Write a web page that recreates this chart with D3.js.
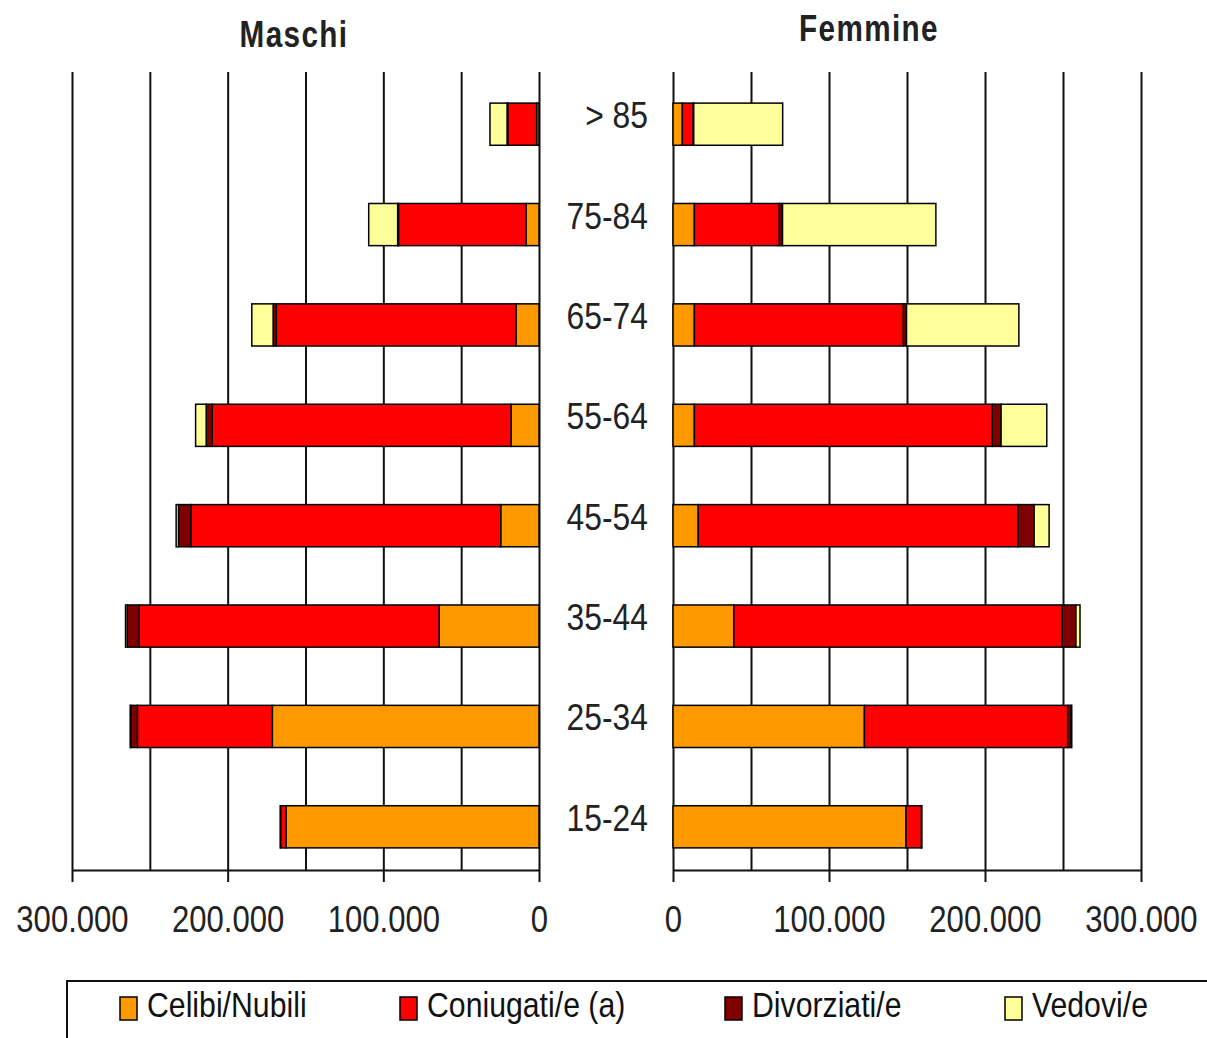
<!DOCTYPE html>
<html>
<head>
<meta charset="utf-8">
<script src="https://cdn.jsdelivr.net/npm/d3@7"></script>
<style>
  body { margin: 0; background: #fff; }
  svg { display: block; font-family: "Liberation Sans", Arial, sans-serif; }
</style>
</head>
<body>
<svg width="1207" height="1038"></svg>
<script>
// age classes, top to bottom
var categories = ['> 85', '75-84', '65-74', '55-64', '45-54', '35-44', '25-34', '15-24'];
var seriesKeys = ['celibi', 'coniugati', 'divorziati', 'vedovi'];
var seriesLabels = ['Celibi/Nubili', 'Coniugati/e (a)', 'Divorziati/e', 'Vedovi/e'];
var seriesColors = ['#FF9900', '#FF0000', '#800000', '#FFFF99'];

// Maschi
var celibiM     = [1500, 8300, 14800, 18000, 24600, 64200, 171300, 162500];
var coniugatiM  = [18600, 82000, 154000, 192000, 199000, 192700, 86700, 3500];
var divorziatiM = [400, 500, 2000, 3800, 8000, 7700, 4300, 200];
var vedoviM     = [11000, 18600, 13700, 6800, 1500, 1000, 300, 0];

// Femmine
var celibiF     = [6000, 13700, 13700, 13700, 16200, 39000, 122700, 149400];
var coniugatiF  = [7000, 54500, 134000, 191000, 205000, 210500, 130300, 9900];
var divorziatiF = [300, 2000, 2000, 5600, 10300, 8800, 2300, 200];
var vedoviF     = [57000, 98300, 72000, 29300, 9600, 2600, 300, 0];

var axisTicks = [0, 100000, 200000, 300000];
var gridTicks = [0, 50000, 100000, 150000, 200000, 250000, 300000];

function rows(c, co, d, v) {
  return categories.map(function(cat, i) {
    return { cat: cat, celibi: c[i], coniugati: co[i], divorziati: d[i], vedovi: v[i] };
  });
}

var svg = d3.select('svg');
var gridTop = 72, gridBottom = 870;

var fmt = d3.formatLocale({ decimal: ',', thousands: '.', grouping: [3], currency: ['', ''] }).format(',d');

var y = d3.scaleBand().domain(categories).range([74, 877])
  .paddingInner(0.58).paddingOuter(0.29);
var color = d3.scaleOrdinal().domain(seriesKeys).range(seriesColors);
var stack = d3.stack().keys(seriesKeys);

var xLeft = d3.scaleLinear().domain([0, 300000]).range([539, 72]);
var xRight = d3.scaleLinear().domain([0, 300000]).range([673, 1141]);

function panel(x, data) {
  var g = svg.append('g');

  // vertical grid lines
  g.append('g')
    .attr('transform', 'translate(0,' + gridBottom + ')')
    .call(d3.axisBottom(x).tickValues(gridTicks).tickSize(-(gridBottom - gridTop)).tickFormat(''))
    .call(function(a) {
      a.select('.domain').remove();
      a.selectAll('line').attr('stroke', '#111').attr('stroke-width', 2);
    });

  // bars
  g.append('g').selectAll('g')
    .data(stack(data))
    .join('g')
      .attr('fill', function(d) { return color(d.key); })
    .selectAll('rect')
    .data(function(d) { return d; })
    .join('rect')
      .attr('x', function(d) { return Math.min(x(d[0]), x(d[1])); })
      .attr('width', function(d) { return Math.abs(x(d[1]) - x(d[0])); })
      .attr('y', function(d) { return y(d.data.cat); })
      .attr('height', y.bandwidth())
      .attr('stroke', '#000')
      .attr('stroke-width', 1.5);

  // axis
  g.append('g')
    .attr('transform', 'translate(0,' + gridBottom + ')')
    .call(d3.axisBottom(x).tickValues(axisTicks).tickSize(12).tickSizeOuter(0).tickFormat(fmt))
    .call(function(a) {
      a.select('.domain').attr('stroke', '#111').attr('stroke-width', 2);
      a.selectAll('line').attr('stroke', '#111').attr('stroke-width', 2);
      a.selectAll('text')
        .attr('y', 62).attr('dy', null)
        .attr('transform', 'scale(0.84,1)')
        .attr('fill', '#222')
        .style('font-size', '37px');
    });
}

panel(xLeft, rows(celibiM, coniugatiM, divorziatiM, vedoviM));
panel(xRight, rows(celibiF, coniugatiF, divorziatiF, vedoviF));

// age class labels
svg.append('g').selectAll('text')
  .data(categories)
  .join('text')
    .attr('transform', function(d) {
      return 'translate(648,' + (y(d) + y.bandwidth() / 2 + 4) + ') scale(0.86,1)';
    })
    .attr('text-anchor', 'end')
    .style('font-size', '37px')
    .attr('fill', '#222')
    .text(function(d) { return d; });

// panel titles
svg.append('text')
  .attr('transform', 'translate(294,47) scale(0.9,1.12)')
  .attr('text-anchor', 'middle')
  .style('font-size', '33px').style('font-weight', 'bold').style('letter-spacing', '1.5px')
  .attr('fill', '#222')
  .text('Maschi');
svg.append('text')
  .attr('transform', 'translate(869,41) scale(0.9,1.12)')
  .attr('text-anchor', 'middle')
  .style('font-size', '33px').style('font-weight', 'bold').style('letter-spacing', '1.5px')
  .attr('fill', '#222')
  .text('Femmine');

// legend
var legend = svg.append('g');
legend.append('path')
  .attr('d', 'M67,1040V981H1210')
  .attr('fill', 'none').attr('stroke', '#111').attr('stroke-width', 2);

var legendX = [120, 400, 725, 1005];
var item = legend.selectAll('g.item')
  .data(seriesKeys)
  .join('g')
    .attr('class', 'item')
    .attr('transform', function(d, i) { return 'translate(' + legendX[i] + ',0)'; });
item.append('rect')
  .attr('x', 0).attr('y', 997).attr('width', 17).attr('height', 23)
  .attr('fill', function(d) { return color(d); })
  .attr('stroke', '#000').attr('stroke-width', 1.5);
item.append('text')
  .attr('transform', 'translate(27,1017) scale(0.84,1)')
  .style('font-size', '36px')
  .attr('fill', '#111')
  .text(function(d, i) { return seriesLabels[i]; });
</script>
</body>
</html>
